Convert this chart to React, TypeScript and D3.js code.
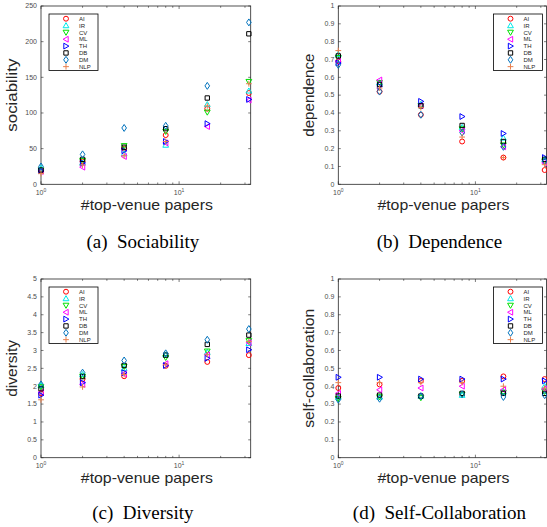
import React from 'react';
import * as d3 from 'd3';

const W = 547, H = 527;

const xs = [1, 2, 4, 8, 16, 32];
const groups = ['AI', 'IR', 'CV', 'ML', 'TH', 'DB', 'DM', 'NLP'];
const colors = ['#ff0000', '#00e8e8', '#00e000', '#ff00ff', '#0000ff', '#000000', '#0072bd', '#e8804f'];
const shapes = ['o', '^', 'v', '<', '>', 's', 'd', '+'];

// one row per group, one value per x
const sociability = [
  [19, 32, 50, 69, 106, 128],
  [23, 30, 43, 55, 112, 131],
  [20, 33, 54, 74, 101, 144],
  [18, 24, 39, 58, 81, 118],
  [19, 30, 47, 60, 85, 119],
  [20, 35, 52, 78, 121, 211],
  [25, 42, 79, 82, 138, 227],
  [15, 27, 40, 60, 110, 141],
];
const dependence = [
  [0.69, 0.52, 0.39, 0.24, 0.15, 0.08],
  [0.73, 0.57, 0.45, 0.32, 0.26, 0.14],
  [0.71, 0.57, 0.44, 0.31, 0.22, 0.13],
  [0.69, 0.585, 0.44, 0.3, 0.21, 0.12],
  [0.68, 0.55, 0.465, 0.38, 0.285, 0.15],
  [0.72, 0.56, 0.44, 0.33, 0.24, 0.14],
  [0.67, 0.52, 0.39, 0.29, 0.21, 0.13],
  [0.75, 0.54, 0.43, 0.265, 0.15, 0.11],
];
const diversity = [
  [1.8, 2.2, 2.28, 2.57, 2.68, 2.87],
  [2.02, 2.33, 2.5, 2.88, 2.95, 3.2],
  [1.98, 2.28, 2.55, 2.8, 2.98, 3.27],
  [1.83, 2.05, 2.35, 2.63, 2.88, 3.22],
  [1.75, 2.1, 2.38, 2.58, 2.78, 3.02],
  [1.93, 2.27, 2.58, 2.87, 3.17, 3.43],
  [2.05, 2.38, 2.72, 2.92, 3.3, 3.6],
  [1.62, 1.98, 2.33, 2.6, 2.88, 3.25],
];
const selfCollab = [
  [0.39, 0.41, 0.43, 0.43, 0.455, 0.44],
  [0.34, 0.34, 0.345, 0.35, 0.37, 0.4],
  [0.33, 0.34, 0.335, 0.355, 0.365, 0.37],
  [0.36, 0.38, 0.39, 0.4, 0.38, 0.385],
  [0.45, 0.45, 0.44, 0.44, 0.44, 0.43],
  [0.345, 0.35, 0.345, 0.36, 0.36, 0.36],
  [0.325, 0.33, 0.345, 0.355, 0.34, 0.35],
  [0.42, 0.42, 0.42, 0.42, 0.4, 0.39],
];

const sociabilityTicks = [0, 50, 100, 150, 200, 250];
const unitTicks = [0, 0.1, 0.2, 0.3, 0.4, 0.5, 0.6, 0.7, 0.8, 0.9, 1];
const diversityTicks = [0, 0.5, 1, 1.5, 2, 2.5, 3, 3.5, 4, 4.5, 5];

const AXIS = '#262626';
const TICK_TXT = '#4d4d4d';
const SANS = 'Liberation Sans, Arial, sans-serif';
const SERIF = 'Liberation Serif, Times New Roman, serif';

function markerPath(shape: string, r: number) {
  switch (shape) {
    case '^': return `M0,${-r}L${r},${r * 0.75}L${-r},${r * 0.75}Z`;
    case 'v': return `M0,${r}L${r},${-r * 0.75}L${-r},${-r * 0.75}Z`;
    case '<': return `M${-r},0L${r * 0.75},${-r}L${r * 0.75},${r}Z`;
    case '>': return `M${r},0L${-r * 0.75},${-r}L${-r * 0.75},${r}Z`;
    case 's': return `M${-r * 0.75},${-r * 0.75}H${r * 0.75}V${r * 0.75}H${-r * 0.75}Z`;
    case 'd': return `M0,${-r * 1.2}L${r * 0.8},0L0,${r * 1.2}L${-r * 0.8},0Z`;
    case '+': return `M${-r},0H${r}M0,${-r}V${r}`;
    default: return '';
  }
}

function Marker({ shape, color, x, y, r }: { shape: string; color: string; x: number; y: number; r: number }) {
  if (shape === 'o') {
    return <circle cx={x} cy={y} r={r * 0.85} fill="none" stroke={color} strokeWidth={1} />;
  }
  return <path transform={`translate(${x},${y})`} d={markerPath(shape, r)} fill="none" stroke={color} strokeWidth={1} />;
}

type PanelProps = {
  x0: number; x1: number; y0: number; y1: number;
  data: number[][]; yMax: number; yTicks: number[];
  yLabel: string; yLabelLen: number; caption: string; captionY: number; legendX: number;
};

function Panel({ x0, x1, y0, y1, data, yMax, yTicks, yLabel, yLabelLen, caption, captionY, legendX }: PanelProps) {
  const x = d3.scaleLog().domain([1, 33]).range([x0, x1]);
  const y = d3.scaleLinear().domain([0, yMax]).range([y1, y0]);
  const minor = [2, 3, 4, 5, 6, 7, 8, 9, 20, 30];
  const fmt = (v: number) => (yMax >= 10 ? String(v) : String(+v.toFixed(1)));
  const cx = (x0 + x1) / 2;
  const cy = (y0 + y1) / 2;
  const legTop = y0 + 8;
  const rowH = 6.85;
  return (
    <g>
      {/* box */}
      <rect x={x0} y={y0} width={x1 - x0} height={y1 - y0} fill="#fff" stroke={AXIS} strokeWidth={0.8} />
      {/* y ticks */}
      {yTicks.map(t => (
        <g key={t}>
          <line x1={x0} x2={x0 + 2.5} y1={y(t)} y2={y(t)} stroke={AXIS} strokeWidth={0.6} />
          <line x1={x1} x2={x1 - 2.5} y1={y(t)} y2={y(t)} stroke={AXIS} strokeWidth={0.6} />
          <text x={x0 - 4} y={y(t)} dy="0.33em" textAnchor="end" fontSize={7} fill={TICK_TXT} fontFamily={SANS}>{fmt(t)}</text>
        </g>
      ))}
      {/* x ticks */}
      {[1, 10].map(t => (
        <g key={t}>
          <line x1={x(t)} x2={x(t)} y1={y1} y2={y1 - 3} stroke={AXIS} strokeWidth={0.6} />
          <line x1={x(t)} x2={x(t)} y1={y0} y2={y0 + 3} stroke={AXIS} strokeWidth={0.6} />
          <text x={x(t)} y={y1 + 10.5} textAnchor="middle" fontSize={7} fill={TICK_TXT} fontFamily={SANS}>
            10<tspan dy={-3} fontSize={5}>{t === 1 ? '0' : '1'}</tspan>
          </text>
        </g>
      ))}
      {minor.map(t => (
        <g key={t}>
          <line x1={x(t)} x2={x(t)} y1={y1} y2={y1 - 1.8} stroke={AXIS} strokeWidth={0.6} />
          <line x1={x(t)} x2={x(t)} y1={y0} y2={y0 + 1.8} stroke={AXIS} strokeWidth={0.6} />
        </g>
      ))}
      {/* points */}
      {groups.map((g, gi) => (
        <g key={g}>
          {data[gi].map((v, i) => (
            <Marker key={i} shape={shapes[gi]} color={colors[gi]} x={x(xs[i])} y={y(v)} r={2.9} />
          ))}
        </g>
      ))}
      {/* legend */}
      <rect x={legendX} y={y0 + 8} width={49} height={56.5} fill="#fff" stroke="#000" strokeWidth={0.8} />
      {groups.map((g, gi) => (
        <g key={g}>
          <Marker shape={shapes[gi]} color={colors[gi]} x={legendX + 17} y={legTop + 4.7 + gi * rowH} r={2.9} />
          <text x={legendX + 30} y={legTop + 4.7 + gi * rowH} dy="0.35em" fontSize={6} fill={AXIS} fontFamily={SANS}>{g}</text>
        </g>
      ))}
      {/* labels */}
      <text x={cx + 1} y={y1 + 25.5} textAnchor="middle" fontSize={14.5} fill={AXIS} fontFamily={SANS}
        textLength={132} lengthAdjust="spacingAndGlyphs">#top-venue papers</text>
      <text transform={`translate(${x0 - 24},${cy}) rotate(-90)`} textAnchor="middle" fontSize={14.5} fill={AXIS}
        fontFamily={SANS} textLength={yLabelLen} lengthAdjust="spacingAndGlyphs">{yLabel}</text>
      <text x={cx - 3} y={captionY} textAnchor="middle" fontSize={19} fill="#000" fontFamily={SERIF} xmlSpace="preserve">{caption}</text>
    </g>
  );
}

export default function App() {
  return (
    <div style={{ position: 'absolute', left: 0, top: 0 }}>
      <svg width={W} height={H} style={{ display: 'block', background: '#fff' }}>
        <Panel x0={41} x1={250.7} y0={6} y1={184.3} data={sociability} yMax={250} yTicks={sociabilityTicks}
          yLabel="sociability" yLabelLen={73} caption="(a)  Sociability" captionY={248} legendX={49} />
        <Panel x0={338.3} x1={546.5} y0={6} y1={184.3} data={dependence} yMax={1} yTicks={unitTicks}
          yLabel="dependence" yLabelLen={83} caption="(b)  Dependence" captionY={248} legendX={493.5} />
        <Panel x0={41} x1={250.7} y0={279} y1={457.7} data={diversity} yMax={5} yTicks={diversityTicks}
          yLabel="diversity" yLabelLen={57} caption="(c)  Diversity" captionY={519} legendX={49} />
        <Panel x0={338.3} x1={546.5} y0={279} y1={457.7} data={selfCollab} yMax={1} yTicks={unitTicks}
          yLabel="self-collaboration" yLabelLen={119} caption="(d)  Self-Collaboration" captionY={519} legendX={493.5} />
      </svg>
    </div>
  );
}
